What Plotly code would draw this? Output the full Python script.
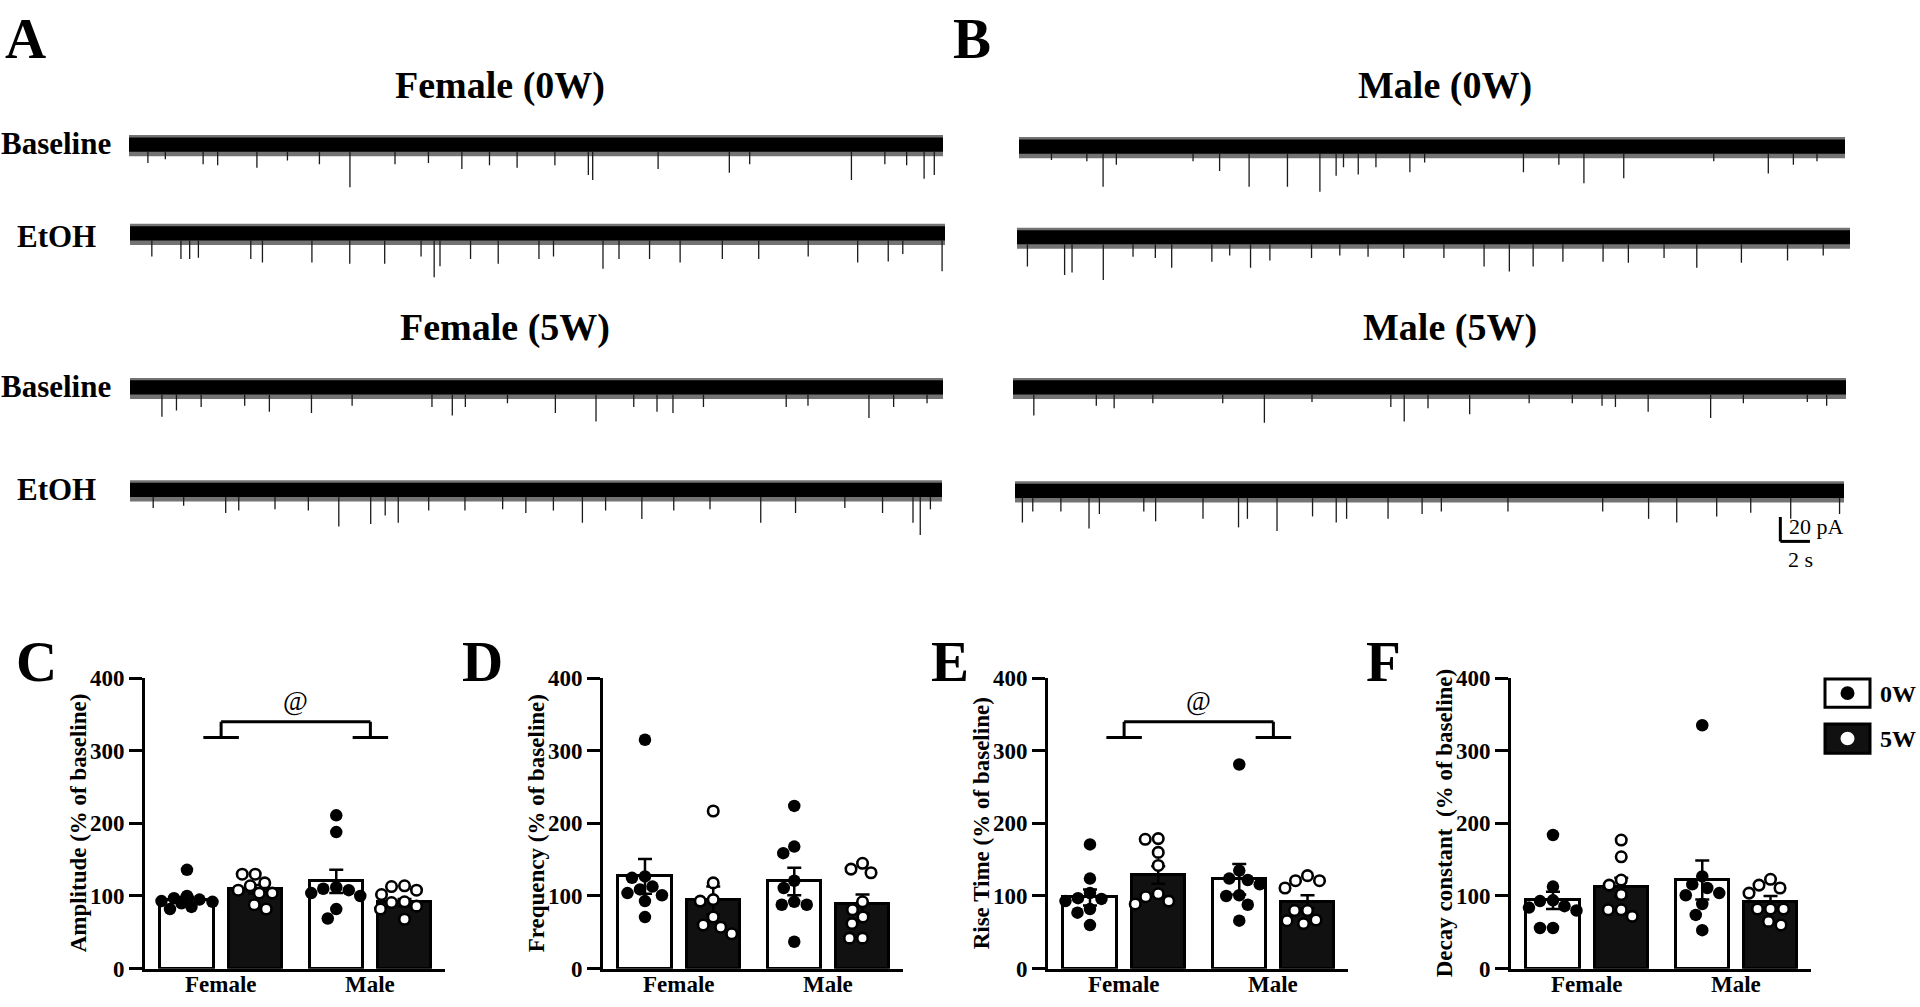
import plotly.graph_objects as go

W, H = 1920, 1007
SERIF = "Liberation Serif"

# ======================= DATA =======================
groups = ["Female", "Male"]
ages = ["0W", "5W"]
trace_titles = ["Female (0W)", "Female (5W)", "Male (0W)", "Male (5W)"]
row_labels = ["Baseline", "EtOH"]
DUR = 56.0  # s shown per trace

# ---- sIPSC events (time s, amplitude pA below baseline) ----
f0b_t = [1.3, 2.5, 5.1, 6.1, 8.8, 10.9, 13.1, 15.2, 18.3, 20.6, 22.9, 24.8, 26.7, 29.3, 31.6, 31.9, 36.4, 41.3, 42.7, 49.7, 52.0, 53.5, 54.7, 55.4]
f0b_a = [15, 12, 16, 17, 19, 13, 16, 35, 16, 15, 20, 17, 19, 17, 25, 29, 20, 23, 16, 29, 16, 17, 28, 25]
f0e_t = [1.5, 3.5, 4.1, 4.7, 8.3, 9.1, 12.5, 15.1, 17.5, 20.0, 20.9, 21.3, 23.4, 25.3, 28.1, 29.1, 32.5, 33.6, 35.7, 37.8, 40.7, 43.2, 46.6, 50.0, 52.1, 53.1, 55.8]
f0e_a = [19, 21, 21, 20, 21, 24, 24, 25, 25, 19, 36, 27, 21, 25, 21, 19, 29, 21, 21, 24, 21, 21, 19, 24, 23, 17, 31]
f5b_t = [2.2, 3.2, 4.9, 7.9, 9.6, 12.5, 15.3, 20.8, 22.2, 23.1, 26.0, 29.3, 32.1, 34.7, 36.3, 37.4, 39.5, 45.2, 46.7, 50.9, 52.6, 54.9]
f5b_a = [24, 19, 16, 15, 20, 21, 15, 16, 23, 16, 13, 21, 28, 16, 20, 21, 16, 16, 15, 25, 16, 13]
f5e_t = [1.6, 3.7, 6.6, 7.5, 10.0, 12.3, 14.4, 16.6, 17.6, 18.5, 20.6, 23.1, 25.7, 27.3, 29.2, 31.2, 32.8, 35.3, 37.5, 40.0, 43.5, 45.9, 49.3, 51.9, 54.0, 54.5, 55.2]
f5e_a = [15, 13, 19, 17, 16, 17, 30, 28, 21, 27, 17, 17, 16, 19, 17, 27, 17, 24, 17, 16, 27, 19, 15, 19, 27, 37, 16]
m0b_t = [2.2, 4.6, 5.7, 6.6, 11.8, 13.6, 15.6, 18.2, 20.4, 21.5, 22.0, 23.0, 24.2, 26.5, 27.5, 34.2, 36.6, 38.3, 41.0, 47.1, 50.8, 52.5, 54.1]
m0b_a = [11, 12, 33, 15, 12, 20, 33, 33, 37, 24, 17, 23, 17, 21, 13, 21, 15, 30, 26, 12, 22, 15, 12]
m0e_t = [0.7, 3.2, 3.7, 5.8, 7.8, 9.3, 10.4, 13.1, 14.3, 15.7, 17.0, 19.8, 21.7, 23.6, 26.0, 28.7, 31.4, 33.1, 34.7, 36.7, 39.4, 41.1, 43.5, 45.7, 48.7, 51.8, 54.2]
m0e_a = [24, 31, 29, 35, 16, 17, 25, 20, 15, 25, 19, 17, 15, 16, 17, 17, 24, 28, 24, 20, 20, 21, 17, 25, 21, 19, 15]
m5b_t = [1.4, 5.6, 6.8, 9.4, 14.1, 16.9, 20.1, 25.4, 26.3, 27.9, 30.7, 34.7, 37.6, 39.6, 40.5, 42.7, 46.9, 49.1, 53.4, 54.7]
m5b_a = [23, 15, 17, 13, 13, 29, 12, 16, 28, 17, 22, 13, 13, 15, 16, 20, 25, 13, 12, 15]
m5e_t = [0.5, 1.2, 3.1, 5.0, 5.7, 8.7, 9.5, 12.7, 15.1, 15.7, 17.7, 20.1, 21.7, 22.4, 25.2, 27.5, 28.8, 33.3, 39.7, 42.8, 44.7, 47.4, 49.7, 52.4, 55.7]
m5e_a = [26, 17, 17, 31, 19, 17, 25, 23, 30, 23, 33, 21, 26, 23, 23, 19, 17, 17, 17, 23, 26, 21, 18, 23, 19]

# ---- C: Amplitude (% of baseline) ----
amp_f0 = [136, 97, 93, 100, 82, 85, 95, 90, 92]
amp_f5 = [130, 130, 118, 114, 104, 104, 108, 82, 88]
amp_m0 = [211, 188, 110, 104, 100, 112, 82, 69, 108]
amp_m5 = [108, 113, 114, 102, 86, 92, 91, 82, 68]
amp_mean = [94, 109, 120, 91]
amp_sem = [5, 6, 16, 5]
# ---- D: Frequency ----
freq_f0 = [315, 127, 125, 109, 113, 101, 93, 104, 71]
freq_f5 = [217, 118, 93, 95, 71, 60, 48, 57]
freq_m0 = [224, 168, 159, 121, 111, 92, 88, 88, 37]
freq_m5 = [132, 137, 145, 92, 81, 71, 62, 42, 42]
freq_mean = [127, 94, 120, 89]
freq_sem = [24, 19, 19, 13]
# ---- E: Rise time ----
rise_f0 = [171, 124, 104, 93, 97, 82, 77, 60, 96]
rise_f5 = [179, 178, 160, 142, 89, 103, 93, 99]
rise_m0 = [281, 135, 124, 122, 116, 100, 101, 88, 66]
rise_m5 = [128, 121, 121, 111, 80, 80, 62, 66, 67]
rise_mean = [98, 129, 123, 92]
rise_sem = [11, 12, 21, 9]
# ---- F: Decay constant ----
decay_f0 = [184, 113, 84, 94, 93, 80, 56, 56, 86]
decay_f5 = [177, 154, 122, 115, 102, 72, 81, 81]
decay_m0 = [335, 127, 116, 111, 101, 104, 89, 74, 53]
decay_m5 = [111, 123, 115, 104, 82, 82, 82, 60, 65]
decay_mean = [94, 112, 122, 91]
decay_sem = [12, 13, 27, 9]

ytitles = ["Amplitude (% of baseline)", "Frequency (% of baseline)",
           "Rise Time (% of baseline)", "Decay constant  (% of baseline)"]
yticks = [0, 100, 200, 300, 400]

# ======================= LAYOUT HELPERS =======================
def PX(x):
    return x / W

def PY(y):
    return 1 - y / H

fig = go.Figure()
layout = {}
annotations = []
shapes = []

def ann(text, x, y, size, bold=True, xanchor="center", yanchor="middle", angle=0,
        xref="paper", yref="paper", family=SERIF):
    annotations.append(dict(
        text=("<b>%s</b>" % text) if bold else text,
        x=x if xref != "paper" else PX(x), y=y if yref != "paper" else PY(y),
        xref=xref, yref=yref, showarrow=False, xanchor=xanchor, yanchor=yanchor,
        textangle=angle, borderpad=0, font=dict(family=family, size=size, color="black")))

# ======================= TRACES (A, B) =======================
PX_PER_PA = 1.25
Y_TOP, Y_BOT = 12, -46
trace_specs = [  # (times, amps, x-start px, x-end px, centre px)
    (f0b_t, f0b_a, 129, 943, 136),
    (f0e_t, f0e_a, 130, 945, 227),
    (f5b_t, f5b_a, 130, 943, 385),
    (f5e_t, f5e_a, 130, 942, 490),
    (m0b_t, m0b_a, 1019, 1845, 138),
    (m0e_t, m0e_a, 1017, 1850, 231),
    (m5b_t, m5b_a, 1013, 1846, 385),
    (m5e_t, m5e_a, 1015, 1844, 491),
]
CORE = 5.8
FUZZ_UP, FUZZ_DN = 7.8, 9.5
for i, (tt, aa, x0, x1, c) in enumerate(trace_specs):
    n = i + 1
    xa = "x" if n == 1 else "x%d" % n
    ya = "y" if n == 1 else "y%d" % n
    kx = "xaxis" if n == 1 else "xaxis%d" % n
    ky = "yaxis" if n == 1 else "yaxis%d" % n
    layout[kx] = dict(domain=[PX(x0), PX(x1)], range=[0, DUR], visible=False, anchor=ya)
    layout[ky] = dict(domain=[PY(c - Y_BOT * PX_PER_PA), PY(c - Y_TOP * PX_PER_PA)],
                      range=[Y_BOT, Y_TOP], visible=False, anchor=xa)
    # noisy fringe + dense core
    fig.add_trace(go.Scatter(x=[0, DUR, DUR, 0, 0],
                             y=[FUZZ_UP, FUZZ_UP, -FUZZ_DN, -FUZZ_DN, FUZZ_UP],
                             fill="toself", mode="none", fillcolor="rgba(0,0,0,0.55)",
                             xaxis=xa, yaxis=ya, hoverinfo="skip"))
    fig.add_trace(go.Scatter(x=[0, DUR, DUR, 0, 0], y=[CORE, CORE, -CORE, -CORE, CORE],
                             fill="toself", fillcolor="black", mode="none",
                             xaxis=xa, yaxis=ya, hoverinfo="skip"))
    sx, sy = [], []
    for t, a in zip(tt, aa):
        sx += [t, t, None]
        sy += [-CORE, -a, None]
    fig.add_trace(go.Scatter(x=sx, y=sy, mode="lines", line=dict(color="#1a1a1a", width=1.3),
                             xaxis=xa, yaxis=ya, hoverinfo="skip"))

# titles and row labels
ann("A", 25, 27, 57)
ann("B", 972, 27, 57)
ann(trace_titles[0], 500, 75, 38)
ann(trace_titles[1], 505, 324, 38)
ann(trace_titles[2], 1445, 75, 38)
ann(trace_titles[3], 1450, 324, 38)
for yy, lab in [(135, row_labels[0]), (230, row_labels[1]), (384, row_labels[0]), (490, row_labels[1])]:
    ann(lab, 56, yy, 31)

# scale bar drawn in the last trace's axes (20 pA, 2 s)
SB_T, SB_Y = 51.7, -41.5
shapes.append(dict(type="line", xref="x8", yref="y8", x0=SB_T, x1=SB_T, y0=SB_Y, y1=SB_Y + 20,
                   line=dict(color="black", width=3)))
shapes.append(dict(type="line", xref="x8", yref="y8", x0=SB_T, x1=SB_T + 2, y0=SB_Y, y1=SB_Y,
                   line=dict(color="black", width=3)))
ann("20 pA", 1788, 528, 22, bold=False, xanchor="left")
ann("2 s", 1800, 561, 22, bold=False)

# ======================= BAR PANELS (C-F) =======================
GROUP_GAP = 2.187
XR = [-1.115, 3.28]
BAR_W = 0.777
PXU = 300 / (XR[1] - XR[0])     # px per x unit
PYU = 298 / 400.0               # px per y unit
Y_TOP_PX, Y_BOT_PX = 683, 981

panels = [
    ("C", 145, [amp_f0, amp_f5, amp_m0, amp_m5], amp_mean, amp_sem, True),
    ("D", 603, [freq_f0, freq_f5, freq_m0, freq_m5], freq_mean, freq_sem, False),
    ("E", 1048, [rise_f0, rise_f5, rise_m0, rise_m5], rise_mean, rise_sem, True),
    ("F", 1511, [decay_f0, decay_f5, decay_m0, decay_m5], decay_mean, decay_sem, False),
]
letter_x = {"C": 36, "D": 482, "E": 950, "F": 1383}

def swarm(values, xc, d=12.8, maxoff=26):
    cands = [0.0]
    k = 1
    while k * 0.5 <= maxoff:
        cands += [-k * 0.5, k * 0.5]
        k += 1
    order = sorted(range(len(values)), key=lambda i: -values[i])
    placed, xs = [], [0] * len(values)
    for i in order:
        yv = values[i] * PYU
        best, bestov, fallback = None, None, 0.0
        for c in cands:
            ov = min([((c - px) ** 2 + (yv - py) ** 2) for px, py in placed] or [1e9])
            if ov >= d * d:
                best = c
                break
            if bestov is None or ov > bestov:
                bestov, fallback = ov, c
        if best is None:
            best = fallback
        placed.append((best, yv))
        xs[i] = xc + best / PXU
    return xs

for p, (letter, axl, pts, means, sems, bracket) in enumerate(panels):
    n = 9 + p
    xa, ya = "x%d" % n, "y%d" % n
    layout["xaxis%d" % n] = dict(domain=[PX(axl), PX(axl + 300)], range=XR, anchor=ya,
                                 showline=True, linecolor="black", linewidth=3, ticks="",
                                 showticklabels=False, showgrid=False, zeroline=False)
    layout["yaxis%d" % n] = dict(domain=[PY(Y_BOT_PX), PY(Y_TOP_PX)], range=[0, 400], anchor=xa,
                                 showline=True, linecolor="black", linewidth=3, ticks="outside",
                                 ticklen=13, tickwidth=3, tickcolor="black", tickvals=yticks,
                                 ticktext=["<b>%d</b>" % v for v in yticks],
                                 tickfont=dict(family=SERIF, size=23, color="black"),
                                 showgrid=False, zeroline=False)
    pos = [g * GROUP_GAP + (a - 0.5) for g in range(len(groups)) for a in range(len(ages))]
    fills = ["white" if ages[a] == "0W" else "#111111" for g in range(len(groups)) for a in range(len(ages))]
    fig.add_trace(go.Bar(x=pos, y=means, width=BAR_W, xaxis=xa, yaxis=ya,
                         marker=dict(color=fills, line=dict(color="black", width=3)),
                         error_y=dict(type="data", array=sems, symmetric=True, color="black",
                                      thickness=2.5, width=7), hoverinfo="skip"))
    for k, vals in enumerate(pts):
        xs = swarm(vals, pos[k])
        if ages[k % 2] == "0W":
            mk = dict(size=12.5, color="black", line=dict(width=0))
        else:
            mk = dict(size=10.5, color="white", line=dict(color="black", width=2.6))
        fig.add_trace(go.Scatter(x=xs, y=vals, mode="markers", marker=mk,
                                 xaxis=xa, yaxis=ya, cliponaxis=False, hoverinfo="skip"))
    # labels
    ann(letter, letter_x[letter], 666, 57)
    ann(ytitles[p], axl - 67, (Y_TOP_PX + Y_BOT_PX) / 2, 23, angle=-90)
    for g, gname in enumerate(groups):
        annotations.append(dict(text="<b>%s</b>" % gname, x=g * GROUP_GAP, y=PY(997), xref=xa,
                                yref="paper", showarrow=False, xanchor="center", yanchor="middle",
                                font=dict(family=SERIF, size=23, color="black")))
    if bracket:
        c0, c1 = 0, GROUP_GAP
        hw = 0.26
        for (x0, y0, x1, y1) in [(c0, 340, c1, 340), (c0, 340, c0, 318), (c1, 340, c1, 318),
                                 (c0 - hw, 318, c0 + hw, 318), (c1 - hw, 318, c1 + hw, 318)]:
            shapes.append(dict(type="line", xref=xa, yref=ya, x0=x0, y0=y0, x1=x1, y1=y1,
                               line=dict(color="black", width=3)))
        annotations.append(dict(text="@", x=(c0 + c1) / 2, y=369, xref=xa, yref=ya, showarrow=False,
                                font=dict(family=SERIF, size=27, color="black")))

# ======================= LEGEND =======================
for (y0, y1, box, dot, lab) in [(684, 713, "white", "black", ages[0]), (730, 760, "#111111", "white", ages[1])]:
    shapes.append(dict(type="rect", xref="paper", yref="paper", x0=PX(1825), x1=PX(1870),
                       y0=PY(y1), y1=PY(y0), fillcolor=box, line=dict(color="black", width=3)))
    cy = (y0 + y1) / 2
    shapes.append(dict(type="circle", xref="paper", yref="paper", x0=PX(1840.5), x1=PX(1854.5),
                       y0=PY(cy + 7), y1=PY(cy - 7), fillcolor=dot, line=dict(width=0)))
    ann(lab, 1917, cy + 1, 24, xanchor="right")

layout.update(dict(width=W, height=H, margin=dict(l=0, r=0, t=0, b=0), autosize=False,
                   paper_bgcolor="white", plot_bgcolor="rgba(0,0,0,0)", showlegend=False,
                   annotations=annotations, shapes=shapes, bargap=0))
fig.update_layout(**layout)
fig.write_html("out.html", config={"displayModeBar": False},
               post_script="document.body.style.margin='0px';")
